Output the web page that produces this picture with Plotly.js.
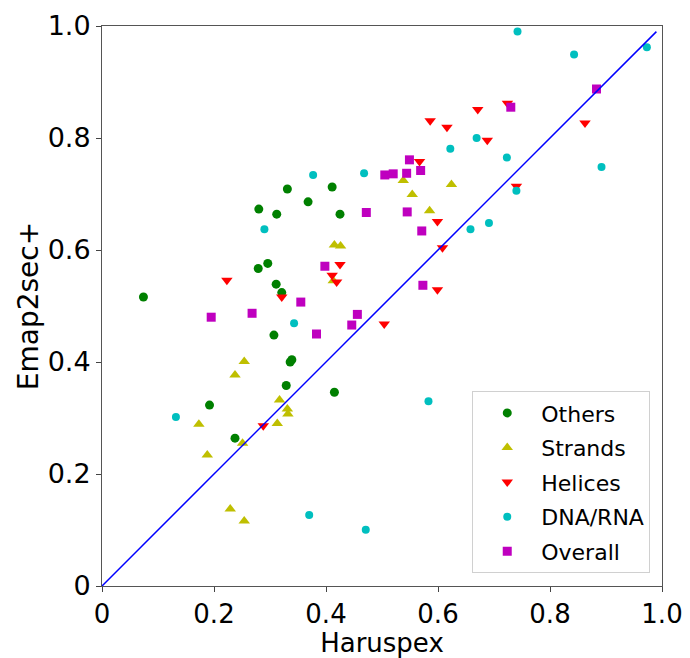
<!DOCTYPE html>
<html>
<head>
<meta charset="utf-8">
<script src="https://cdn.plot.ly/plotly-3.0.1.min.js"></script>
<style>html,body{margin:0;padding:0;background:#fff;}#chart{width:690px;height:658px;}</style>
</head>
<body>
<div id="chart"></div>
<script>
// Data (Haruspex x, Emap2sec+ y)
const othersX = [0.331,0.411,0.368,0.280,0.312,0.425,0.296,0.279,0.311,0.321,0.074,0.307,0.336,0.339,0.329,0.415,0.192,0.2375];
const othersY = [0.709,0.7125,0.686,0.673,0.664,0.664,0.576,0.567,0.539,0.524,0.516,0.448,0.400,0.404,0.358,0.346,0.323,0.264];

const strandsX = [0.538,0.624,0.554,0.585,0.415,0.426,0.413,0.254,0.2375,0.317,0.331,0.332,0.313,0.173,0.251,0.188,0.229,0.254];
const strandsY = [0.724,0.717,0.699,0.670,0.609,0.607,0.545,0.401,0.377,0.332,0.316,0.307,0.290,0.289,0.255,0.234,0.1375,0.116];

const helicesX = [0.724,0.671,0.586,0.616,0.8625,0.688,0.567,0.740,0.599,0.608,0.599,0.504,0.223,0.425,0.411,0.419,0.321,0.288];
const helicesY = [0.862,0.851,0.831,0.819,0.827,0.796,0.758,0.714,0.651,0.604,0.529,0.468,0.546,0.574,0.555,0.543,0.516,0.286];

const dnaX = [0.377,0.468,0.742,0.843,0.973,0.669,0.622,0.723,0.892,0.740,0.290,0.343,0.658,0.691,0.583,0.132,0.370,0.471];
const dnaY = [0.734,0.737,0.990,0.949,0.962,0.800,0.781,0.765,0.748,0.706,0.637,0.469,0.637,0.648,0.330,0.302,0.127,0.1005];

const overallX = [0.883,0.730,0.549,0.569,0.544,0.520,0.505,0.545,0.472,0.571,0.573,0.398,0.355,0.195,0.268,0.456,0.446,0.383];
const overallY = [0.8875,0.855,0.761,0.742,0.737,0.736,0.734,0.668,0.667,0.634,0.537,0.571,0.507,0.480,0.487,0.485,0.466,0.450];

const diagX = [0, 0.99];
const diagY = [0, 0.99];

const tickVals = [0, 0.2, 0.4, 0.6, 0.8, 1.0];
const tickText = ["0", "0.2", "0.4", "0.6", "0.8", "1.0"];

const FONT = "DejaVu Sans, sans-serif";

function series(name, xs, ys, symbol, color, size, grp) {
  return {
    type: "scatter", mode: "markers", name: name, x: xs, y: ys,
    legendgroup: grp,
    marker: {symbol: symbol, color: color, size: size, line: {width: 0}},
    cliponaxis: false
  };
}

const traces = [
  series("Others", othersX, othersY, "circle", "#008000", 9, "g1"),
  series("Strands", strandsX, strandsY, "triangle-up", "#bfbf00", 10, "g2"),
  series("Helices", helicesX, helicesY, "triangle-down", "#ff0000", 10, "g3"),
  series("DNA/RNA", dnaX, dnaY, "circle", "#00bfbf", 8, "g4"),
  series("Overall", overallX, overallY, "square", "#bf00bf", 9, "g5"),
  {type: "scatter", mode: "lines", x: diagX, y: diagY, showlegend: false,
   line: {color: "#0000ff", width: 1.5}, hoverinfo: "skip"}
];

const axisCommon = {
  range: [0, 1], autorange: false,
  tickmode: "array", tickvals: tickVals, ticktext: tickText,
  ticks: "outside", ticklen: 5, tickwidth: 1, tickcolor: "#444",
  showgrid: false, zeroline: false,
  showline: true, linecolor: "#555", linewidth: 1, mirror: true,
  tickfont: {family: FONT, size: 27, color: "#000"},
  automargin: false
};

const layout = {
  width: 690, height: 658,
  margin: {l: 102, r: 28, t: 26, b: 72},
  paper_bgcolor: "#fff", plot_bgcolor: "#fff",
  showlegend: true,
  xaxis: Object.assign({}, axisCommon, {
    tickfont: {family: FONT, size: 26, color: "#000"},
    title: {text: "Haruspex", font: {family: FONT, size: 26, color: "#000"}, standoff: 0}
  }),
  yaxis: Object.assign({}, axisCommon, {
    title: {text: "Emap2sec+", font: {family: FONT, size: 28, color: "#000"}, standoff: 0}
  }),
  legend: {
    x: 0.979, y: 0.023, xanchor: "right", yanchor: "bottom",
    bgcolor: "rgba(255,255,255,0.85)", bordercolor: "#d0d0d0", borderwidth: 1,
    font: {family: FONT, size: 22, color: "#000"},
    itemwidth: 58, tracegroupgap: 3, traceorder: "grouped"
  }
};

Plotly.newPlot("chart", traces, layout, {displayModeBar: false, staticPlot: true});
</script>
</body>
</html>
